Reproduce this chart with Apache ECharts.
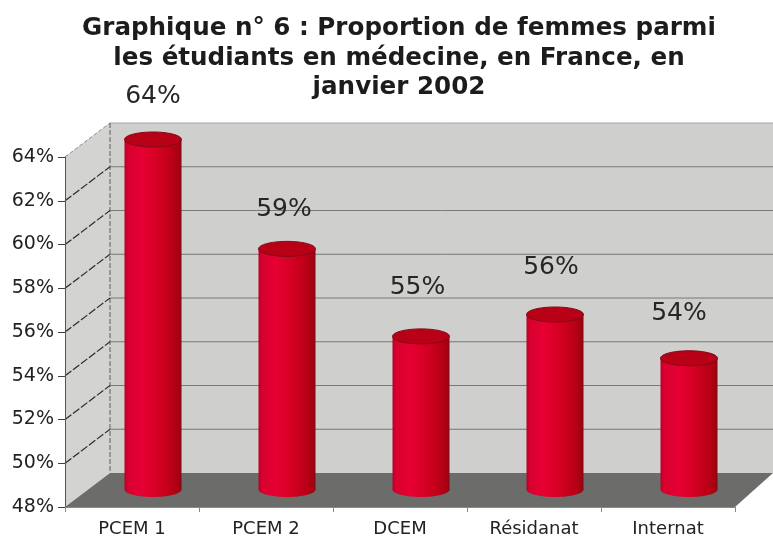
<!DOCTYPE html>
<html>
<head>
<meta charset="utf-8">
<style>
  html, body { margin: 0; padding: 0; background: #fff; }
  #chart { width: 773px; height: 538px; }
</style>
<script src="https://cdn.jsdelivr.net/npm/echarts@6/dist/echarts.min.js"></script>
</head>
<body>
<div id="chart"></div>
<script>
var titleLines = [
  'Graphique n° 6 : Proportion de femmes parmi',
  'les étudiants en médecine, en France, en',
  'janvier 2002'
]
var categories = ['PCEM 1', 'PCEM 2', 'DCEM', 'Résidanat', 'Internat']
var values = [64, 59, 55, 56, 54]
var valueTicks = [48, 50, 52, 54, 56, 58, 60, 62, 64]

// the labels were placed by hand in the original, so they are nudged off the bar top
var labelShift = [[0, -43], [-3, -39], [-3.5, -49], [-4, -47.5], [-10, -44.5]]

// depth of the fake 3D box
var depthX = 45
var depthY = 34
var wallRight = 773

var chart = echarts.init(document.getElementById('chart'))

// back wall, side wall, floor and the gridlines, all hung on the value axis
function drawBox (params, api) {
  var cs = params.coordSys
  var left = cs.x
  var right = cs.x + cs.width
  var top = cs.y
  var bottom = cs.y + cs.height
  var children = [
    {
      type: 'rect',
      shape: { x: left + depthX, y: top - depthY, width: wallRight - left - depthX, height: cs.height },
      style: { fill: '#cfcfcd' }
    },
    {
      type: 'polygon',
      shape: { points: [[left, top], [left + depthX, top - depthY], [left + depthX, bottom - depthY], [left, bottom]] },
      style: { fill: '#d3d3d2' }
    },
    {
      type: 'polygon',
      shape: { points: [[left, bottom], [left + depthX, bottom - depthY], [wallRight, bottom - depthY], [right, bottom]] },
      style: { fill: '#6c6c6b' }
    },
    {
      type: 'line',
      shape: { x1: left + depthX, y1: top - depthY, x2: wallRight, y2: top - depthY },
      style: { stroke: '#a8a8a8', lineWidth: 1 }
    },
    {
      type: 'line',
      shape: { x1: left, y1: top, x2: left + depthX, y2: top - depthY },
      style: { stroke: '#8a8a8a', lineWidth: 1, lineDash: [4, 2] }
    },
    {
      type: 'line',
      shape: { x1: left + depthX, y1: top - depthY, x2: left + depthX, y2: bottom - depthY },
      style: { stroke: '#5c5c5c', lineWidth: 1, lineDash: [5, 2] }
    }
  ]
  valueTicks.forEach(function (tick) {
    if (tick === valueTicks[0] || tick === valueTicks[valueTicks.length - 1]) return
    var y = api.coord([0, tick])[1]
    children.push({
      type: 'line',
      shape: { x1: left, y1: y, x2: left + depthX, y2: y - depthY },
      style: { stroke: '#2a2a2a', lineWidth: 1.2, lineDash: [8, 2] }
    })
    children.push({
      type: 'line',
      shape: { x1: left + depthX, y1: y - depthY, x2: wallRight, y2: y - depthY },
      style: { stroke: '#777a77', lineWidth: 1 }
    })
  })
  return { type: 'group', children: children }
}

function drawCylinder (params, api) {
  var i = api.value(0)
  var value = api.value(1)
  var topPt = api.coord([i, value])
  var basePt = api.coord([i, valueTicks[0]])
  var cx = topPt[0] + 21
  var topY = topPt[1] - 17.5
  var baseY = basePt[1] - 17.5
  var rx = 28.5
  var ry = 7.5
  var bodyFill = new echarts.graphic.LinearGradient(0, 0, 1, 0, [
    { offset: 0, color: '#b80026' },
    { offset: 0.06, color: '#d8002e' },
    { offset: 0.3, color: '#e60034' },
    { offset: 0.55, color: '#d80024' },
    { offset: 0.8, color: '#be0018' },
    { offset: 0.95, color: '#a80012' },
    { offset: 1, color: '#7e0c14' }
  ])
  return {
    type: 'group',
    children: [
      { type: 'ellipse', shape: { cx: cx, cy: baseY, rx: rx, ry: ry }, style: { fill: bodyFill } },
      { type: 'rect', shape: { x: cx - rx, y: topY, width: rx * 2, height: baseY - topY }, style: { fill: bodyFill } },
      {
        type: 'ellipse',
        shape: { cx: cx, cy: topY, rx: rx, ry: ry },
        style: { fill: '#b80016', stroke: '#7e0c14', lineWidth: 1 }
      },
      {
        type: 'text',
        x: cx + labelShift[i][0],
        y: topY + labelShift[i][1],
        style: {
          text: value + '%',
          align: 'center',
          verticalAlign: 'middle',
          fontFamily: 'DejaVu Sans',
          fontSize: 25,
          fill: '#262626'
        }
      }
    ]
  }
}

var option = {
  animation: false,
  backgroundColor: '#ffffff',
  title: {
    text: titleLines.join('\n'),
    left: 394,
    top: 9,
    textAlign: 'center',
    textStyle: {
      fontFamily: 'DejaVu Sans',
      fontWeight: 'bold',
      fontSize: 24.6,
      lineHeight: 29.5,
      color: '#1c1c1c'
    }
  },
  grid: { left: 65, top: 157, width: 670, height: 351, containLabel: false },
  xAxis: {
    type: 'category',
    data: categories,
    z: 5,
    axisLine: { lineStyle: { color: '#8a8a8a' } },
    axisTick: { show: true, length: 5, lineStyle: { color: '#8a8a8a' } },
    axisLabel: { margin: 13, fontFamily: 'DejaVu Sans', fontSize: 18, color: '#222222', interval: 0 }
  },
  yAxis: {
    type: 'value',
    min: valueTicks[0],
    max: valueTicks[valueTicks.length - 1],
    interval: 2,
    z: 5,
    splitLine: { show: false },
    axisLine: { show: true, lineStyle: { color: '#555555' } },
    axisTick: { show: true, length: 7, lineStyle: { color: '#444444' } },
    axisLabel: { margin: 11, formatter: '{value}%', fontFamily: 'DejaVu Sans', fontSize: 19, color: '#222222' }
  },
  series: [
    {
      type: 'custom',
      silent: true,
      clip: false,
      renderItem: drawBox,
      data: [[0, valueTicks[0]]]
    },
    {
      type: 'custom',
      clip: false,
      renderItem: drawCylinder,
      encode: { x: 0, y: 1 },
      data: values.map(function (v, i) { return [i, v] })
    }
  ]
}

chart.setOption(option)
</script>
</body>
</html>
